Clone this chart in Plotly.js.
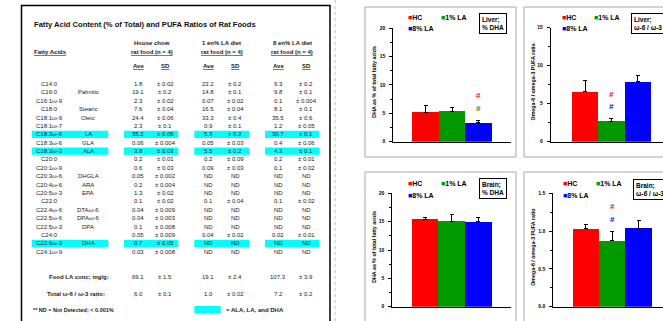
<!DOCTYPE html>
<html><head><meta charset="utf-8">
<script src="https://cdn.plot.ly/plotly-3.0.1.min.js"></script>
<style>html,body{margin:0;padding:0;background:#fff}#chart{width:663px;height:321px}</style>
</head><body><div id="chart"></div>
<script>
// ---------- Bar chart data ----------
const groups = ['HC', '1% LA', '8% LA'];
const groupColors = ['#ff0000', '#009900', '#0000ff'];
const liverDHA = [5.2, 5.4, 3.3];
const liverDHAErr = [1.1, 0.65, 0.5];
const liverRatio = [6.6, 2.7, 7.9];
const liverRatioErr = [1.4, 0.3, 0.85];
const brainDHA = [15.4, 15.1, 15.0];
const brainDHAErr = [0.35, 1.2, 0.75];
const brainRatio = [1.03, 0.87, 1.04];
const brainRatioErr = [0.055, 0.13, 0.10];
// significance marks: [bar index, y value, colour index]
const liverDHASig = [[2, 8.2, 0], [2, 5.8, 1]];
const liverRatioSig = [[1, 6.2, 0], [1, 4.6, 2]];
const brainDHASig = [];
const brainRatioSig = [[1, 1.32, 0], [1, 1.15, 2]];

// ---------- Table data ----------
const tableTitle = 'Fatty Acid Content (% of Total) and PUFA Ratios of Rat Foods';
const dietHeaders = ['House chow', '1 en% LA diet', '8 en% LA diet'];
const faNames = ['C14:0','C16:0','C16:1ω-9','C18:0','C18:1ω-9','C18:1ω-7','C18:2ω-6','C18:3ω-6','C18:3ω-3','C20:0','C20:1ω-9','C20:3ω-6','C20:4ω-6','C20:5ω-3','C22:0','C22:4ω-6','C22:5ω-6','C22:5ω-3','C24:0','C22:6ω-3','C24:1ω-9'];
const faCommon = ['','Palmitic','','Stearic','Oleic','','LA','GLA','ALA','','','DHGLA','ARA','EPA','','DTAω-6','DPAω-6','DPA','','DHA',''];
const hcAve = ['1.8','19.1','2.3','7.6','24.4','2.3','35.2','0.06','3.8','0.2','0.6','0.05','0.2','1.3','0.1','0.04','0.04','0.1','0.05','0.7','0.03'];
const hcSD = ['± 0.02','± 0.2','± 0.02','± 0.04','± 0.06','± 0.1','± 0.06','± 0.004','± 0.03','± 0.01','± 0.03','± 0.002','± 0.004','± 0.02','± 0.02','± 0.009','± 0.003','± 0.008','± 0.009','± 0.05','± 0.008'];
const lowAve = ['23.2','14.8','0.07','16.5','33.3','0.9','5.3','0.05','5.5','0.2','0.09','ND','ND','ND','0.1','ND','ND','ND','0.04','ND','ND'];
const lowSD = ['± 0.2','± 0.1','± 0.02','± 0.04','± 0.4','± 0.1','± 0.2','± 0.03','± 0.2','± 0.09','± 0.03','ND','ND','ND','± 0.04','ND','ND','ND','± 0.02','ND','ND'];
const highAve = ['9.3','9.8','0.1','8.1','35.5','1.2','30.7','0.4','4.3','0.2','0.1','ND','ND','ND','0.1','ND','ND','ND','0.02','ND','ND'];
const highSD = ['± 0.2','± 0.1','± 0.004','± 0.1','± 0.6','± 0.05','± 0.1','± 0.06','± 0.1','± 0.01','± 0.02','ND','ND','ND','± 0.02','ND','ND','ND','± 0.01','ND','ND'];
const highlighted = ['LA', 'ALA', 'DHA'];
const foodLA = ['69.1','± 1.5','19.1','± 2.4','107.3','± 3.9'];
const totalRatio = ['6.0','± 0.1','1.0','± 0.02','7.2','± 0.2'];

// ---------- helpers ----------
const W = 663, H = 321;
const px = x => x / W;
const py = y => 1 - y / H;
const FONT = 'Arial, "Liberation Sans", sans-serif';
const TXT = '#222';
const annotations = [];
const shapes = [];
function txt(x, y, text, o) {
  o = o || {};
  annotations.push({xref:'paper', yref:'paper', x:px(x), y:py(y), text:text, showarrow:false,
    xanchor:o.xa || 'center', yanchor:o.ya || 'middle', align:o.align || 'center',
    font:{family:FONT, size:o.size || 6, color:o.color || TXT, weight:o.bold ? 'bold' : 'normal'},
    borderpad:0});
}
function rect(x0, y0, x1, y1, o) {
  shapes.push(Object.assign({type:'rect', xref:'paper', yref:'paper', x0:px(x0), x1:px(x1), y0:py(y1), y1:py(y0),
    line:{width:0}, layer:'below'}, o));
}

// ---------- Table ----------
rect(21.5, 5.5, 330, 330, {line:{color:'#000', width:1.5}, fillcolor:'rgba(0,0,0,0)'});
shapes.push({type:'line', xref:'paper', yref:'paper', x0:px(335), x1:px(335), y0:0, y1:1, line:{color:'#bbb', width:1, dash:'dot'}});
txt(33, 24, tableTitle, {xa:'left', bold:true, size:7.6, color:'#111'});
const colX = [138, 165, 208, 235, 278, 306];
const hdrX = [151.5, 221.5, 292];
dietHeaders.forEach((h, i) => {
  txt(hdrX[i], 42.7, h, {bold:true});
  txt(hdrX[i], 51.7, '<u>rat food (n = 4)</u>', {bold:true});
  txt(colX[2*i], 66, '<u>Ave</u>', {bold:true});
  txt(colX[2*i+1], 66, '<u>SD</u>', {bold:true});
});
txt(33, 51.7, '<u>Fatty Acids</u>', {xa:'left', bold:true});
const rowY = i => 84 + i * 8.385;
faNames.forEach((n, i) => {
  const y = rowY(i);
  if (highlighted.indexOf(faCommon[i]) >= 0) {
    const c = '#00ffff';
    rect(31.7, y - 3.6, 108.3, y + 3.6, {fillcolor:c});
    rect(124, y - 3.6, 178.3, y + 3.6, {fillcolor:c});
    rect(194.3, y - 3.6, 249.3, y + 3.6, {fillcolor:c});
    rect(265, y - 3.6, 319.3, y + 3.6, {fillcolor:c});
  }
  txt(49, y, n);
  if (faCommon[i]) txt(88, y, faCommon[i]);
  [hcAve[i], hcSD[i], lowAve[i], lowSD[i], highAve[i], highSD[i]].forEach((v, k) => txt(colX[k], y, v));
});
txt(110, 276.7, 'Food LA conc; mg/g:', {xa:'right', bold:true});
foodLA.forEach((v, k) => txt(colX[k], 276.7, v));
txt(106, 294, 'Total ω-6 / ω-3 ratio:', {xa:'right', bold:true});
totalRatio.forEach((v, k) => txt(colX[k], 294, v));
txt(32, 310, '** ND = Not Detected; < 0.001%', {xa:'left', bold:true, size:5.5});
rect(194.3, 306, 220.7, 313.3, {fillcolor:'#00ffff'});
txt(225, 310, '= ALA, LA, and DHA', {xa:'left', bold:true});

// ---------- Bar panels ----------
const panels = [
  {vals:liverDHA, errs:liverDHAErr, sig:liverDHASig, box:[365,7,516,157], ax:[393.3,511], yPix:[141.7,28], xr:[-1.22,3.23], yr:[0,20], dt:5, mdt:2.5, fmt:'d',
   ytitle:'DHA as % of total fatty acids', tx:374, leg:[408,17], lab:'Liver;<br>% DHA', labXY:[479,13]},
  {vals:liverRatio, errs:liverRatioErr, sig:liverRatioSig, box:[524,7,720,157], ax:[550.7,663], yPix:[141.7,27.7], xr:[-1.3,2.95], yr:[0,15], dt:5, mdt:2.5, fmt:'d',
   ytitle:'Omega-6 / omega-3 PUFA ratio', tx:533, leg:[561.7,17], lab:'Liver;<br>ω-6 / ω-3', labXY:[631,13]},
  {vals:brainDHA, errs:brainDHAErr, sig:brainDHASig, box:[365,172,516,340], ax:[392.3,511], yPix:[306.7,193.3], xr:[-1.23,3.22], yr:[0,20], dt:5, mdt:2.5, fmt:'d',
   ytitle:'DHA as % of total fatty acids', tx:374, leg:[408,184], lab:'Brain;<br>% DHA', labXY:[479,178]},
  {vals:brainRatio, errs:brainRatioErr, sig:brainRatioSig, box:[524,172,720,340], ax:[553.3,663], yPix:[306.7,193.3], xr:[-1.24,2.93], yr:[0,1.5], dt:0.5, mdt:0.25, fmt:'.1f',
   ytitle:'Omega-6 / omega-3 PUFA ratio', tx:533, leg:[563.3,184], lab:'Brain;<br>ω-6 / ω-3', labXY:[632.7,179]}
];
const traces = [];
const layout = {width:W, height:H, margin:{l:0,r:0,t:0,b:0}, paper_bgcolor:'#fff', plot_bgcolor:'rgba(0,0,0,0)',
  showlegend:false, bargap:0, annotations:annotations, shapes:shapes};
panels.forEach((p, i) => {
  const n = i + 1;
  const xa = 'x' + n, ya = 'y' + n;
  traces.push({type:'bar', x:[0,1,2], y:p.vals, width:[1,1,1], xaxis:xa, yaxis:ya, name:'',
    text:groups, textposition:'none', hoverinfo:'y+text',
    marker:{color:groupColors, line:{width:0}},
    error_y:{type:'data', symmetric:false, array:p.errs, arrayminus:[0,0,0], color:'#000', thickness:1, width:2}});
  const axCommon = {showgrid:false, zeroline:false, showline:true, linecolor:'#000', linewidth:1, fixedrange:true};
  layout['xaxis' + n] = Object.assign({}, axCommon, {domain:[px(p.ax[0]), px(p.ax[1])], range:p.xr, anchor:ya,
    showticklabels:false, ticks:''});
  layout['yaxis' + n] = Object.assign({}, axCommon, {domain:[py(p.yPix[0]), py(p.yPix[1])], range:p.yr, anchor:xa,
    ticks:'outside', ticklen:3, tickwidth:1, tickcolor:'#000', dtick:p.dt, tick0:0, tickformat:p.fmt, ticklabelstandoff:3,
    tickfont:{family:FONT, size:5, color:'#000', weight:'bold'},
    minor:{dtick:p.mdt, ticks:'outside', ticklen:2, tickcolor:'#000', tickwidth:1, showgrid:false}});
  // panel frame
  rect(p.box[0], p.box[1], p.box[2], p.box[3], {line:{color:'#aaa', width:1}, fillcolor:'rgba(0,0,0,0)'});
  // y-axis title
  annotations.push({xref:'paper', yref:'paper', x:px(p.tx), y:(py(p.yPix[0]) + py(p.yPix[1])) / 2 + 0.01, text:p.ytitle,
    textangle:-90, showarrow:false, xanchor:'center', yanchor:'middle',
    font:{family:FONT, size:5.3, color:'#000', weight:'bold'}});
  // legend
  groups.forEach((g, k) => {
    const lx = p.leg[0] + (k === 1 ? 32.7 : 0);
    const ly = p.leg[1] + (k === 2 ? 11 : 0);
    txt(lx - 1, ly, '<span style="color:' + groupColors[k] + '">■</span>' + g, {xa:'left', bold:true, size:7, color:'#000'});
  });
  // label box
  annotations.push({xref:'paper', yref:'paper', x:px(p.labXY[0]), y:py(p.labXY[1]), text:p.lab, showarrow:false,
    xanchor:'left', yanchor:'top', align:'left', bordercolor:'#000', borderwidth:1, borderpad:2, bgcolor:'#fff',
    font:{family:FONT, size:6.5, color:'#000', weight:'bold'}});
  // significance marks
  p.sig.forEach(s => {
    annotations.push({xref:xa, yref:ya, x:s[0], y:s[1], text:'#', showarrow:false,
      font:{family:FONT, size:8, color:groupColors[s[2]], weight:'bold'}});
  });
});
Plotly.newPlot('chart', traces, layout, {displayModeBar:false, staticPlot:true});
</script>
</body></html>
